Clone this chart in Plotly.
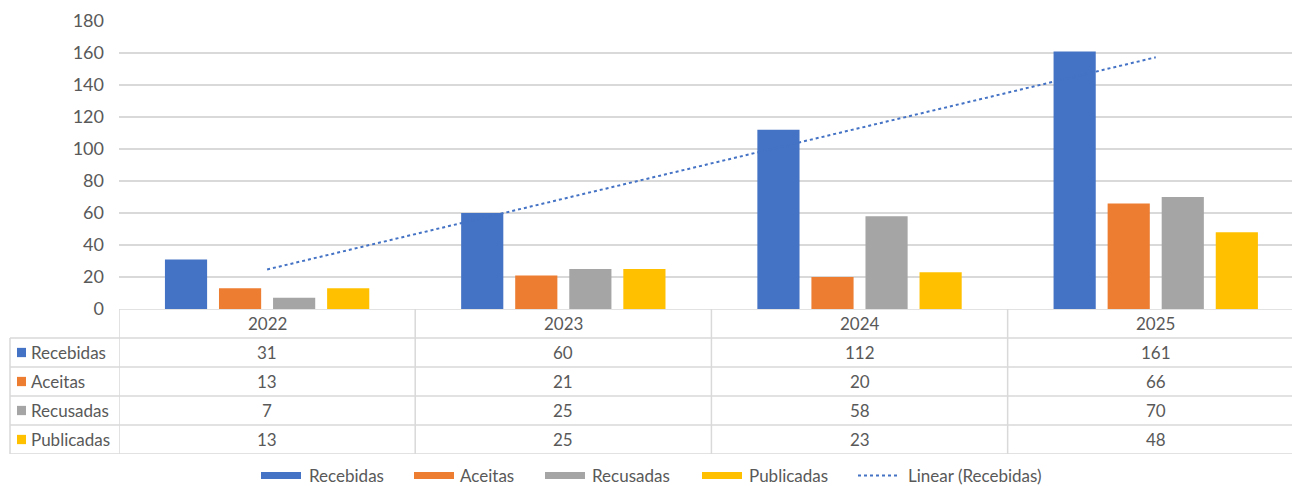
import numpy as np
import plotly.graph_objects as go

years = ["2022", "2023", "2024", "2025"]
recebidas = [31, 60, 112, 161]
aceitas = [13, 21, 20, 66]
recusadas = [7, 25, 58, 70]
publicadas = [13, 25, 23, 48]
series_names = ["Recebidas", "Aceitas", "Recusadas", "Publicadas"]
series_colors = ["#4472C4", "#ED7D31", "#A5A5A5", "#FFC000"]
series_values = [recebidas, aceitas, recusadas, publicadas]
trend_name = "Linear (Recebidas)"
y_ticks = [0, 20, 40, 60, 80, 100, 120, 140, 160, 180]

W, H = 1292, 486
FONT = "Lato"
TXT = "#595959"
GRID = "#D9D9D9"

def px_x(p):
    return p / W

def px_y(p):
    return 1 - p / H

fig = go.Figure()
for name, vals, col in zip(series_names, series_values, series_colors):
    fig.add_trace(go.Bar(x=years, y=vals, name=name, marker=dict(color=col, line=dict(width=0))))

# Linear trendline of Recebidas (least squares, as Excel's "Linear" trendline)
idx = np.arange(len(years))
slope, intercept = np.polyfit(idx, recebidas, 1)
trend = [intercept + slope * i for i in idx]
fig.add_trace(go.Scatter(x=years, y=trend, mode="lines", name=trend_name,
                         line=dict(color="#4472C4", width=2, dash="dot")))

plot_left = px_x(119)
fig.update_layout(
    width=W, height=H,
    margin=dict(l=0, r=0, t=0, b=0, autoexpand=False),
    plot_bgcolor="white", paper_bgcolor="white",
    font=dict(family=FONT, size=17, color=TXT),
    barmode="group", bargap=0.27, bargroupgap=0.22,
    showlegend=False,
    xaxis=dict(domain=[plot_left, 1], range=[-0.5, 3.46], showticklabels=False, showgrid=False,
               zeroline=False, showline=False, type="category", fixedrange=True, automargin=False),
    yaxis=dict(domain=[px_y(309), px_y(21)], range=[0, 180], tickvals=y_ticks, showgrid=True,
               gridcolor=GRID, gridwidth=1.5, zeroline=False, showline=False, ticks="",
               ticklabelstandoff=14, automargin=False, tickfont=dict(family=FONT, size=18, color=TXT)),
    yaxis2=dict(domain=[px_y(454), px_y(309)], range=[5, 0], anchor="x", showgrid=False,
                zeroline=False, showticklabels=False, showline=False, automargin=False),
)

shapes = []
line = dict(color=GRID, width=1.5)
# horizontal table lines
shapes.append(dict(type="line", xref="paper", yref="y2", x0=plot_left, x1=1, y0=0, y1=0, line=line))
for r in range(1, len(series_names) + 2):
    shapes.append(dict(type="line", xref="paper", yref="y2", x0=px_x(10), x1=1, y0=r, y1=r, line=line))
# vertical table lines
shapes.append(dict(type="line", xref="paper", yref="y2", x0=px_x(10), x1=px_x(10), y0=1, y1=5, line=line))
for i in range(len(years)):
    shapes.append(dict(type="line", xref="x", yref="y2", x0=i - 0.5, x1=i - 0.5, y0=0, y1=5, line=line))
# legend keys in table rows
for r, col in enumerate(series_colors, start=1):
    shapes.append(dict(type="rect", xref="paper", yref="y2", x0=px_x(17), x1=px_x(26),
                       y0=r + 0.5 - 0.16, y1=r + 0.5 + 0.16, fillcolor=col, line=dict(width=0)))

# bottom legend (Excel style wide keys)
legend_key_x = [261, 414, 545, 702]
legend_txt_x = [308, 459, 591, 748]
LEG_Y = 475.5
for kx, col in zip(legend_key_x, series_colors):
    shapes.append(dict(type="rect", xref="paper", yref="paper", x0=px_x(kx), x1=px_x(kx + 40),
                       y0=px_y(LEG_Y + 3.5), y1=px_y(LEG_Y - 3.5), fillcolor=col, line=dict(width=0)))
shapes.append(dict(type="line", xref="paper", yref="paper", x0=px_x(858), x1=px_x(898),
                   y0=px_y(LEG_Y), y1=px_y(LEG_Y), line=dict(color="#4472C4", width=2, dash="dot")))
fig.update_layout(shapes=shapes)

annotations = []
for i, yr in enumerate(years):
    annotations.append(dict(x=i, y=0.5, xref="x", yref="y2", text=yr, showarrow=False,
                            font=dict(family=FONT, size=17, color=TXT)))
for r, (name, vals) in enumerate(zip(series_names, series_values), start=1):
    annotations.append(dict(x=px_x(29), y=r + 0.5, xref="paper", yref="y2", text=name,
                            xanchor="left", showarrow=False, font=dict(family=FONT, size=17, color=TXT)))
    for i, v in enumerate(vals):
        annotations.append(dict(x=i, y=r + 0.5, xref="x", yref="y2", text=str(v), showarrow=False,
                                font=dict(family=FONT, size=17, color=TXT)))
for tx, name in zip(legend_txt_x + [907], series_names + [trend_name]):
    annotations.append(dict(x=px_x(tx), y=px_y(LEG_Y), xref="paper", yref="paper", text=name,
                            xanchor="left", yanchor="middle", showarrow=False, borderpad=0,
                            font=dict(family=FONT, size=17, color=TXT)))
fig.update_layout(annotations=annotations)

fig.write_html("out.html", config={"displayModeBar": False},
               post_script="document.body.style.margin='0';")
